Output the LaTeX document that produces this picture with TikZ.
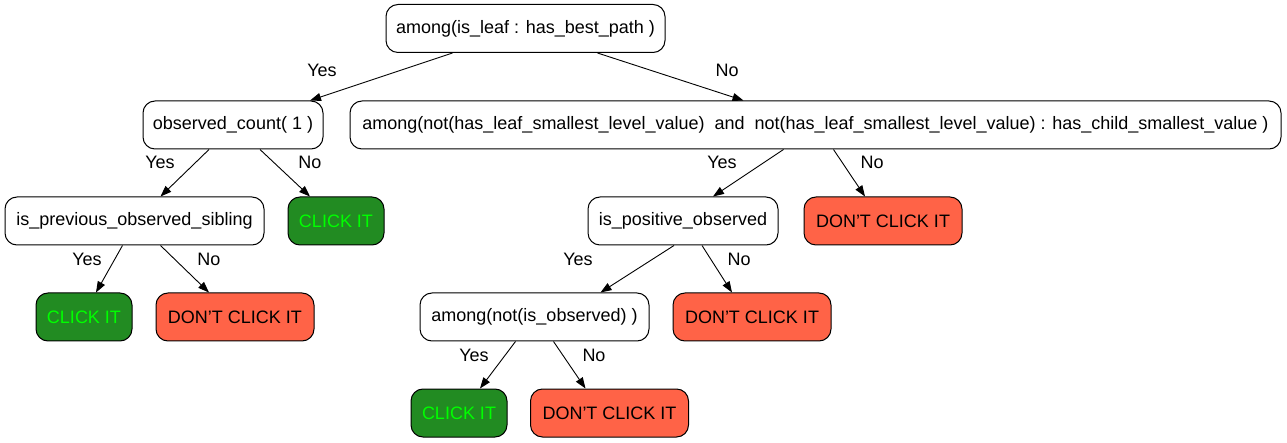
\documentclass[tikz,border=0pt]{standalone}
\usepackage{fontspec}
\setmainfont{Liberation Sans}
\usetikzlibrary{arrows.meta}
\definecolor{gfill}{HTML}{228B22}
\definecolor{gtext}{HTML}{00FF00}
\definecolor{rfill}{HTML}{FF6347}
\begin{document}
\begin{tikzpicture}[x=1pt,y=-1pt,
  box/.style={draw=black,line width=1pt,rounded corners=12pt,fill=white,minimum height=48pt,inner sep=0pt,font=\fontsize{18}{20}\selectfont},
  yesbox/.style={box,fill=gfill,text=gtext},
  nobox/.style={box,fill=rfill,text=black},
  edge/.style={line width=0.9pt,-{Triangle[length=11pt,width=8pt]}},
  lbl/.style={font=\fontsize{18}{20}\selectfont,inner sep=0pt}]
\useasboundingbox (0,0) rectangle (1287,443);
\node[box,minimum width=279pt] (root) at (525.5,28.5) {among(is\_leaf : has\_best\_path )};
\node[box,minimum width=180pt] (obs) at (233,125) {observed\_count( 1 )};
\node[box,minimum width=931pt] (am2) at (815.5,125) {among(not(has\_leaf\_smallest\_level\_value)\ \ and\ \ not(has\_leaf\_smallest\_level\_value) : has\_child\_smallest\_value )};
\node[box,minimum width=259pt] (prev) at (134.5,221) {is\_previous\_observed\_sibling};
\node[yesbox,minimum width=96pt] (c1) at (336,221) {CLICK IT};
\node[box,minimum width=190pt] (pos) at (683,221) {is\_positive\_observed};
\node[nobox,minimum width=158pt] (d1) at (883,221) {DON'T CLICK IT};
\node[yesbox,minimum width=96pt] (c2) at (84,317) {CLICK IT};
\node[nobox,minimum width=158pt] (d2) at (235,317) {DON'T CLICK IT};
\node[box,minimum width=229pt] (am3) at (534.5,317) {among(not(is\_observed) )};
\node[nobox,minimum width=158pt] (d3) at (752,317) {DON'T CLICK IT};
\node[yesbox,minimum width=96pt] (c3) at (459,413) {CLICK IT};
\node[nobox,minimum width=158pt] (d4) at (609.5,413) {DON'T CLICK IT};

\draw[edge] ([xshift=-73pt]root.south) -- ([xshift=77pt]obs.north);
\node[lbl] (l1) at (322,70) {Yes};
\draw[edge] ([xshift=72pt]root.south) -- ([xshift=-72pt]am2.north);
\node[lbl] (l2) at (727,70) {No};
\draw[edge] ([xshift=-24pt]obs.south) -- ([xshift=26pt]prev.north);
\node[lbl] (l3) at (160,162) {Yes};
\draw[edge] ([xshift=27pt]obs.south) -- ([xshift=-26pt]c1.north);
\node[lbl] (l4) at (310,162) {No};
\draw[edge] ([xshift=-32pt]am2.south) -- ([xshift=30pt]pos.north);
\node[lbl] (l5) at (722,162) {Yes};
\draw[edge] ([xshift=18pt]am2.south) -- ([xshift=-18pt]d1.north);
\node[lbl] (l6) at (872,162) {No};
\draw[edge] ([xshift=-12pt]prev.south) -- ([xshift=12pt]c2.north);
\node[lbl] (l7) at (87,259) {Yes};
\draw[edge] ([xshift=26pt]prev.south) -- ([xshift=-26pt]d2.north);
\node[lbl] (l8) at (209,259) {No};
\draw[edge] ([xshift=-9pt]pos.south) -- ([xshift=66pt]am3.north);
\node[lbl] (l9) at (578,259) {Yes};
\draw[edge] ([xshift=19pt]pos.south) -- ([xshift=-20pt]d3.north);
\node[lbl] (l10) at (739,259) {No};
\draw[edge] ([xshift=-19pt]am3.south) -- ([xshift=21pt]c3.north);
\node[lbl] (l11) at (474,355) {Yes};
\draw[edge] ([xshift=19pt]am3.south) -- ([xshift=-24pt]d4.north);
\node[lbl] (l12) at (594,355) {No};
\end{tikzpicture}
\end{document}
